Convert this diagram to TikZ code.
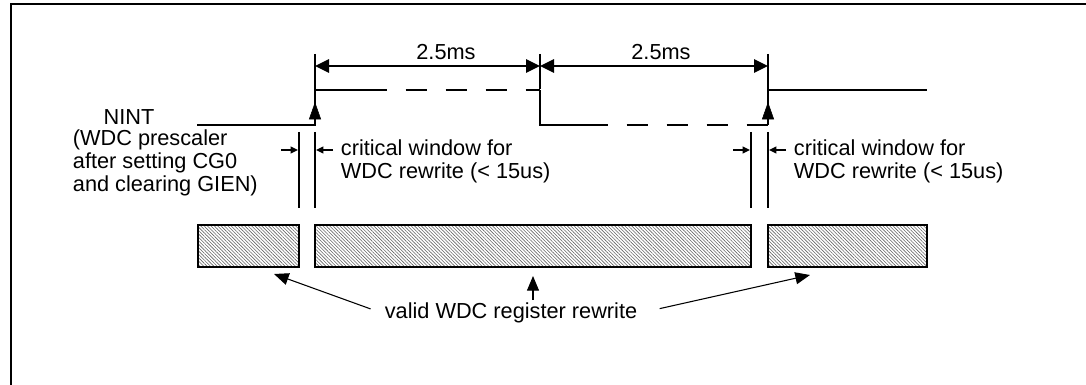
\documentclass[tikz,border=0pt]{standalone}
\usepackage{fontspec}
\setmainfont{Liberation Sans}
\usetikzlibrary{arrows.meta,patterns.meta,fit}

\tikzset{
  wave/.style={line width=1.5pt},
  gapdash/.style={wave,dash pattern=on 16pt off 14pt,dash phase=16pt},
  risetip/.style={-{Triangle[length=13pt,width=9pt]}},
  dimarrow/.style={line width=1.2pt,{Triangle[length=10.5pt,width=10pt]}-{Triangle[length=10.5pt,width=10pt]}},
  tick/.style={line width=1.2pt},
  winline/.style={line width=1.5pt},
  winarrow/.style={line width=1.2pt,-{Triangle[length=5.5pt,width=5pt]}},
  validbox/.style={draw,line width=1.5pt,inner sep=0pt,
    pattern={Lines[angle=-45,distance=1.8pt,line width=0.45pt]},pattern color=black!60},
  labarrow/.style={line width=0.8pt,-{Triangle[length=11pt,width=9pt]}},
  txt/.style={inner sep=2pt,font=\fontsize{16.3pt}{17pt}\selectfont}
}

\begin{document}
\begin{tikzpicture}[x=0.75pt,y=0.75pt,yscale=-1,xscale=1]
\useasboundingbox (0,0) rectangle (1086,385);

%Shape: Frame
\draw[line width=1.9pt] (11,385) -- (11,4) -- (1086,4);

%Coordinates of the edges
\coordinate (riseA) at (315,90);
\coordinate (fall) at (540,90);
\coordinate (riseB) at (768,90);

%Straight Lines: NINT waveform
\draw[wave] (197,125) -- (riseA |- 0,125) -- (riseA) -- (387,90);
\draw[gapdash] (387,90) -- (fall);
\draw[wave] (fall) -- (540,125) -- (608,125);
\draw[gapdash] (608,125) -- (riseB |- 0,125);
\draw[wave] (riseB |- 0,125) -- (riseB) -- (927,90);
\draw[risetip] (315,125) -- (315,102);
\draw[risetip] (768,125) -- (768,102);

%Straight Lines: 2.5ms dimensions
\coordinate (dimA) at (315,66);
\coordinate (dimB) at (540,66);
\coordinate (dimC) at (768,66);
\foreach \d in {dimA,dimB,dimC}
  \draw[tick] ([yshift=-9]\d) -- ([yshift=17]\d);
\draw[dimarrow] (dimA) -- (dimB);
\draw[dimarrow] (dimB) -- (dimC);

% Text Node
\node[txt] (spanA) at (446,52) {2.5ms};
% Text Node
\node[txt] (spanB) at (661,52) {2.5ms};

%Straight Lines: critical windows
\foreach \x in {299,315,751,768}
  \draw[winline] (\x,132) -- (\x,208);
\draw[winarrow] (281,150) -- (298,150);
\draw[winarrow] (333,150) -- (316,150);
\draw[winarrow] (733,150) -- (750,150);
\draw[winarrow] (786,150) -- (769,150);

% Text Node
\node[txt] (nint) at (129,117) {NINT};
% Text Node
\node[txt,anchor=west,align=left] (nintnote) at (70,163)
  {(WDC prescaler\\after setting CG0\\and clearing GIEN)};
% Text Node
\node[txt,anchor=west,align=left] (critA) at (338,161.5)
  {critical window for\\WDC rewrite (< 15us)};
% Text Node
\node[txt,anchor=west,align=left] (critB) at (791,161.5)
  {critical window for\\WDC rewrite (< 15us)};

%Shape: Rectangle
\node[validbox,fit={(198,225) (299,267)}] (boxA) {};
\node[validbox,fit={(315,225) (751,267)}] (boxB) {};
\node[validbox,fit={(768,225) (927,267)}] (boxC) {};

% Text Node
\node[txt] (valid) at (511,313) {valid WDC register rewrite};

%Straight Lines: pointers to the boxes
\coordinate (tipA) at (274,274);
\coordinate (tipB) at (533,276);
\coordinate (tipC) at (810,275);
\draw[labarrow,shorten <=9pt] (valid.west) -- (tipA);
\draw[labarrow] (valid.north -| tipB) -- (tipB);
\draw[labarrow,shorten <=15pt] (valid.east) -- (tipC);

\end{tikzpicture}
\end{document}
